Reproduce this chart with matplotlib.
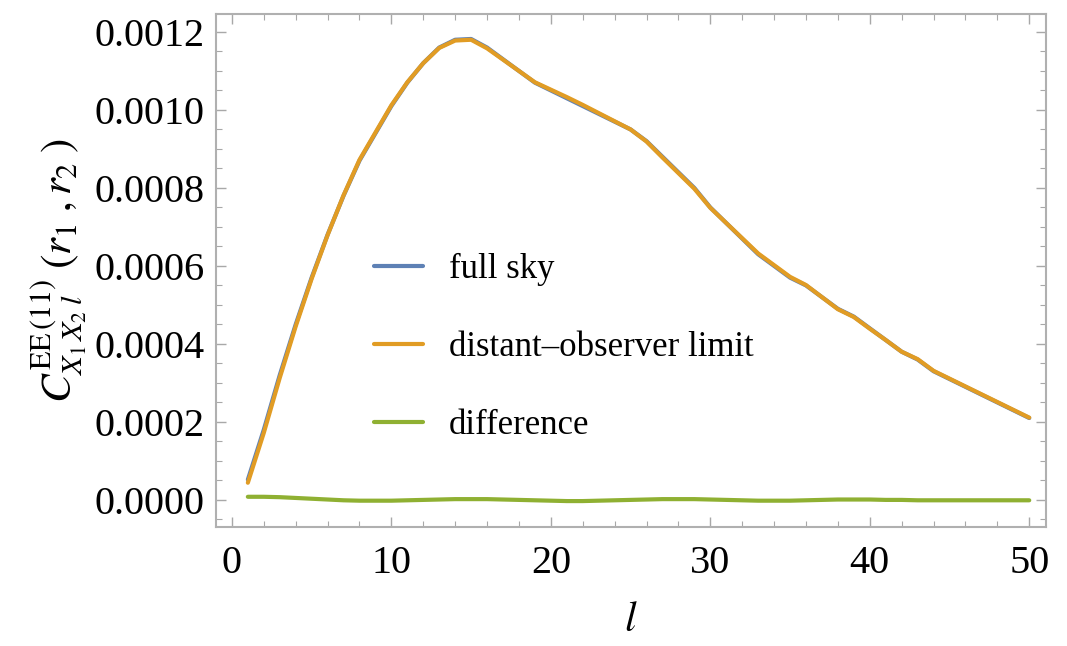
import matplotlib.pyplot as plt
from matplotlib.ticker import MultipleLocator, FormatStrFormatter

# multipole l and the spectra
ell = list(range(1, 51))
full_sky = [0.000052, 0.00018, 0.00032, 0.00045, 0.00057, 0.00068, 0.00078, 0.00087, 0.00094, 0.00101,
            0.00107, 0.00112, 0.00116, 0.00118, 0.001182, 0.00116, 0.00113, 0.00110, 0.00107, 0.00105,
            0.00103, 0.00101, 0.00099, 0.00097, 0.00095, 0.00092, 0.00088, 0.00084, 0.00080, 0.00075,
            0.00071, 0.00067, 0.00063, 0.00060, 0.00057, 0.00055, 0.00052, 0.00049, 0.00047, 0.00044,
            0.00041, 0.00038, 0.00036, 0.00033, 0.00031, 0.00029, 0.00027, 0.00025, 0.00023, 0.00021]
difference = [0.000008, 0.000008, 0.000007, 0.000005, 0.000003, 0.000001, -0.000001, -0.000002, -0.000002, -0.000002,
              -0.000001, 0.000000, 0.000001, 0.000002, 0.000002, 0.000002, 0.000001, 0.000000, -0.000001, -0.000002,
              -0.000003, -0.000003, -0.000002, -0.000001, 0.000000, 0.000001, 0.000002, 0.000002, 0.000002, 0.000001,
              0.000000, -0.000001, -0.000002, -0.000002, -0.000002, -0.000001, 0.000000, 0.000001, 0.000001, 0.000001,
              0.000000, 0.000000, -0.000001, -0.000001, -0.000001, -0.000001, -0.000001, -0.000001, -0.000001, -0.000001]
distant_obs = [f - d for f, d in zip(full_sky, difference)]

plt.rcParams['mathtext.fontset'] = 'stix'
plt.rcParams['font.family'] = ['Liberation Serif', 'DejaVu Serif']

fig = plt.figure(figsize=(10.67, 6.46), dpi=100)
ax = fig.add_axes([0.2024, 0.1842, 0.7779, 0.7941])

kw = dict(lw=3, solid_joinstyle='round', solid_capstyle='round')
ax.plot(ell, full_sky, color='#5E81B5', label='full sky', **kw)
ax.plot(ell, distant_obs, color='#E19C24', label='distant\u2013observer limit', **kw)
ax.plot(ell, difference, color='#8FB032', label='difference', **kw)

ax.set_xlim(-1.0, 51.05)
ax.set_ylim(-0.0000695, 0.001246)

ax.xaxis.set_major_locator(MultipleLocator(10))
ax.xaxis.set_minor_locator(MultipleLocator(2))
ax.yaxis.set_major_locator(MultipleLocator(0.0002))
ax.yaxis.set_minor_locator(MultipleLocator(0.00005))
ax.yaxis.set_major_formatter(FormatStrFormatter('%.4f'))

for s in ax.spines.values():
    s.set_color('#b0b0b0')
    s.set_linewidth(1.5)
ax.tick_params(which='both', direction='in', top=True, right=True, color='#a8a8a8')
ax.tick_params(which='major', length=7, width=1.0, labelsize=29)
ax.tick_params(which='minor', length=4, width=0.8)
ax.tick_params(axis='x', pad=13)
ax.tick_params(axis='y', pad=8)

ax.set_xlabel('$l$', fontsize=30, labelpad=14)
ax.set_ylabel(r'$C^{\mathrm{EE}\,(11)}_{X_1\,X_2\;l}\;(r_1\;,r_2\;)$', fontsize=31, labelpad=4)

ax.legend(loc='center left', bbox_to_anchor=(0.153, 0.35), frameon=False, fontsize=25,
          handlelength=1.4, handletextpad=0.75, labelspacing=1.3)

fig.savefig('out.png', dpi=100)
